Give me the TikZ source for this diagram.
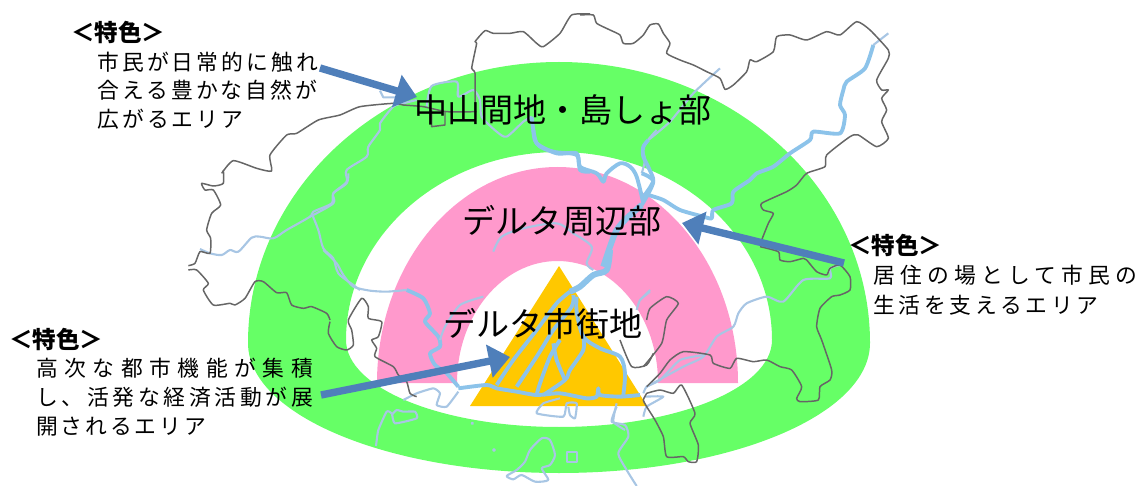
\documentclass[tikz,border=0pt]{standalone}
\usepackage{fontspec}
\setmainfont{Noto Sans CJK JP}
\usetikzlibrary{arrows.meta}
\definecolor{bandgreen}{HTML}{66FF66}
\definecolor{bandpink}{HTML}{FF99CC}
\definecolor{deltaorange}{HTML}{FFC800}
\definecolor{pointerblue}{HTML}{4F7FBA}
\definecolor{riverblue}{HTML}{8CC3EA}
\definecolor{brookblue}{HTML}{A8C6E4}
\definecolor{bordergray}{HTML}{666666}
\tikzset{
  crop/.style 2 args={shift={(#1,#2)},scale=.33333},
  border/.style={bordergray,line width=.85pt,line join=round},
  brook/.style={brookblue,line width=1.2pt,line join=round},
  river/.style={riverblue,line width=2.2pt,line join=round},
  trunk/.style={riverblue,line width=3.4pt,line join=round},
  pointer/.style={pointerblue,line width=4.2pt,-{Triangle[length=12pt,width=18.5pt]}},
  area/.style={inner sep=0pt,font=\fontsize{18.8}{22}\selectfont},
  head/.style={inner sep=0pt,anchor=west,font=\bfseries\fontsize{13.4}{16}\selectfont},
  body/.style={inner sep=0pt,anchor=west,font=\fontsize{12.4}{15}\selectfont\addfontfeature{LetterSpace=#1}}
}
\begin{document}
\begin{tikzpicture}[x=.02cm, y=-.02cm]
\useasboundingbox (0,0) rectangle (1139,486);
% bands
\fill[bandgreen,even odd rule]
 (248,343) arc[start angle=180,end angle=360,x radius=311,y radius=281]
 arc[start angle=0,end angle=180,x radius=311,y radius=130] -- cycle
 (346,340) arc[start angle=180,end angle=360,x radius=213,y radius=188]
 arc[start angle=0,end angle=180,x radius=213,y radius=87] -- cycle;
\fill[bandpink] (377,383) arc[start angle=180,end angle=360,x radius=180.5,y radius=216]
 -- (658,383) arc[start angle=360,end angle=180,x radius=100.5,y radius=122] -- cycle;
\fill[deltaorange] (559,266) -- (647,406) -- (470,406) -- cycle;
% rivers
\begin{scope}[crop={180}{170}]
\draw[brook] plot[smooth,tension=.5] coordinates {(60,237) (90,250) (125,255) (150,240) (175,245) (215,203) (240,200) (280,205) (320,180) (390,140) (400,125) (455,100) (460,70) (500,40) (505,10)};
\draw[brook] plot[smooth,tension=.5] coordinates {(395,130) (415,180) (430,235) (460,265) (475,310) (520,345) (540,360)};
\end{scope}
\begin{scope}[crop={190}{0}]
\draw[brook] plot[smooth,tension=.5] coordinates {(360,650) (430,610) (430,580) (470,545) (470,510) (530,470) (535,440) (570,390) (570,370) (610,320) (640,310) (680,300)};
\draw[brook] (570,272) -- (580,292) -- (620,292);
\draw[brook] plot[smooth,tension=.4] coordinates {(710,320) (725,258) (800,245) (805,290) (850,270) (870,300) (875,350) (920,395) (950,410) (1000,365) (1025,350)};
\draw[river] plot[smooth,tension=.5] coordinates {(1025,350) (1040,430) (1090,455) (1160,465) (1170,510) (1200,515)};
\end{scope}
\begin{scope}[crop={460}{130}]
\draw[river] plot[smooth,tension=.5] coordinates {(220,0) (230,40) (290,70) (350,70) (360,110) (410,130) (430,155) (440,130) (480,100) (510,110) (530,140) (550,220)};
\draw[brook] plot[smooth,tension=.5] coordinates {(590,0) (550,50) (555,90) (545,130)};
\draw[river] plot[smooth,tension=.5] coordinates {(545,130) (580,155) (545,225)};
\draw[trunk] plot[smooth,tension=.5] coordinates {(545,225) (500,265) (470,300) (450,350) (430,410)};
\draw[brook] plot[smooth,tension=.5] coordinates {(100,365) (125,320) (190,295) (290,280) (340,310) (395,350) (380,400) (400,420)};
\end{scope}
\begin{scope}[crop={580}{10}]
\draw[brook] plot[smooth,tension=.4] coordinates {(420,175) (340,250) (270,335) (205,390)};
\draw[river] plot[smooth,tension=.4] coordinates {(205,390) (190,410) (190,440) (220,510) (190,560)};
\draw[river] plot[smooth,tension=.4] coordinates {(880,105) (855,175) (800,215) (790,240) (780,285) (795,315) (780,370) (700,365) (690,390) (630,430) (580,470) (530,490) (510,510) (460,545) (455,580) (400,600) (395,625) (370,620) (300,600) (250,570) (205,555)};
\draw[brook] (925,70) -- (880,105);
\end{scope}
\begin{scope}[crop={230}{250}]
\draw[brook] plot[smooth,tension=.4] coordinates {(280,0) (320,40) (340,75) (370,110) (420,122) (470,125) (530,120)};
\draw[river] plot[smooth,tension=.4] coordinates {(530,120) (580,145) (600,190) (585,215) (625,260) (630,290) (600,310) (615,345) (650,370) (685,410)};
\draw[brook] plot[smooth,tension=.3] coordinates {(520,450) (560,430) (610,415) (630,430) (620,465) (650,470) (685,425)};
\end{scope}
\begin{scope}[crop={350}{390}]
\draw[brook] plot[smooth,tension=.3] coordinates {(78,168) (85,120) (110,65) (125,70) (135,100) (200,85) (195,65) (160,65) (140,60) (125,75)};
\draw[brook] plot[smooth cycle,tension=.4] coordinates {(470,258) (500,240) (525,215) (540,180) (575,145) (600,150) (615,195) (600,225) (575,235) (595,270) (555,275) (515,255) (490,268)};
\draw[brook] (650,185) rectangle (680,215);
\draw[brook] (367,100) circle[radius=2] (432,180) circle[radius=3];
\draw[brook] plot[smooth,tension=.4] coordinates {(800,50) (785,95) (825,105) (835,140) (805,190) (830,240) (860,288)};
\end{scope}
\begin{scope}[crop={380}{240}]
\draw[river] plot[smooth,tension=.4] coordinates {(235,445) (320,435) (350,445) (410,455) (470,465) (540,460) (620,475) (650,470) (655,445) (660,465) (720,470) (780,465)};
\draw[brook] plot[smooth,tension=.4] coordinates {(180,300) (195,260) (240,195) (310,170)};
\draw[trunk] plot[smooth,tension=.5] coordinates {(690,30) (680,90) (640,105) (600,140) (570,155)};
\draw[river] plot[smooth,tension=.5] coordinates {(570,155) (530,190) (470,270) (400,360) (350,435)};
\draw[river] plot[smooth,tension=.5] coordinates {(580,165) (575,200) (520,270) (470,350) (410,440)};
\draw[river] plot[smooth,tension=.5] coordinates {(540,300) (510,350) (480,430) (470,465)};
\draw[river] plot[smooth,tension=.5] coordinates {(520,310) (530,360) (555,420)};
\draw[river] plot[smooth,tension=.5] coordinates {(610,290) (610,330) (570,390) (555,420) (490,465)};
\draw[river] plot[smooth,tension=.5] coordinates {(590,170) (590,215) (610,290) (660,325) (720,350) (735,400) (730,465)};
\draw[brook] plot[smooth,tension=.3] coordinates {(540,475) (490,490) (470,520) (550,530) (560,490) (590,490) (585,535) (570,525) (565,500)};
\draw[brook] plot[smooth,tension=.3] coordinates {(790,460) (800,440) (840,420) (900,360) (970,345)};
\draw[brook] plot[smooth,tension=.3] coordinates {(770,210) (780,180) (810,155)};
\draw[brook] plot[smooth,tension=.3] coordinates {(795,470) (850,470) (800,500) (790,530)};
\draw[brook] plot[smooth,tension=.3] coordinates {(710,490) (700,545) (735,570)};
\end{scope}
\begin{scope}[crop={640}{180}]
\draw[brook] plot[smooth,tension=.4] coordinates {(20,620) (130,560) (190,530) (230,470) (280,440) (295,400) (320,370) (380,350) (430,365) (490,300) (570,295) (570,265) (600,255)};
\draw[brook] (0,360) -- (30,330);
\end{scope}
% borders
\begin{scope}[crop={190}{0}]
\draw[border] plot[smooth,tension=.35] coordinates {(95,520) (130,482) (200,505) (245,513) (240,465) (290,405) (320,400) (385,360) (450,345) (510,320) (610,310) (640,315) (700,320) (770,335) (860,335)};
\draw[border] (725,330) -- (725,380) -- (765,375) -- (765,335);
\draw[border] plot[smooth,tension=.35] coordinates {(855,335) (855,220) (845,205) (860,130) (855,125) (885,92) (910,100) (960,100) (1000,95) (1040,130) (1060,140) (1110,100) (1145,45) (1200,42)};
\end{scope}
\begin{scope}[crop={180}{170}]
\draw[border] plot[smooth,tension=.35] coordinates {(130,0) (130,40) (100,48) (65,40) (75,60) (100,60) (122,105) (95,130) (80,180) (92,205) (90,250) (60,245) (45,280) (25,287)};
\draw[border] plot[smooth,tension=.35] coordinates {(25,300) (50,300) (85,340) (70,360) (100,405) (150,400) (165,405) (195,385) (225,335) (250,335) (290,368) (320,368) (335,405) (370,415) (395,410) (440,430) (450,450)};
\end{scope}
\begin{scope}[crop={230}{250}]
\draw[border] plot[smooth,tension=.35] coordinates {(300,215) (295,250) (320,290) (350,300) (370,285) (365,240) (355,210) (395,145) (415,170) (415,205) (455,215) (445,260) (425,270) (440,295) (435,320) (490,350) (505,375) (530,395) (540,430) (560,440)};
\end{scope}
\begin{scope}[crop={580}{10}]
\draw[border] plot[smooth,tension=.35] coordinates {(0,15) (40,15) (50,40) (90,60) (120,75) (130,100) (160,100) (190,75) (210,45) (235,42) (250,70) (270,100) (260,130) (300,150) (340,165) (380,185) (420,205) (435,238) (460,225) (500,185) (510,150) (530,155) (580,125) (590,80) (630,75) (680,90) (740,65) (780,75) (830,35) (870,60) (925,120) (925,145) (890,210) (905,240) (925,240) (905,265) (920,300) (905,335) (925,385) (890,410) (835,375) (810,380) (740,435) (735,470) (680,490) (650,525) (620,545) (545,580) (550,600) (580,610) (565,640) (545,690)};
\end{scope}
\begin{scope}[crop={640}{180}]
\draw[border] plot[smooth,tension=.35] coordinates {(360,200) (415,215) (420,240) (450,245) (490,235) (500,240) (530,275) (560,285) (570,265) (600,255) (630,290) (630,330) (600,345) (575,350) (540,385) (530,440) (545,480) (575,570) (570,600) (540,620) (535,660) (480,665) (470,655) (485,620) (455,570) (420,560) (380,540) (340,545) (290,535) (270,565) (220,550) (210,525) (130,515) (90,540) (60,580) (20,620)};
\draw[border] plot[smooth,tension=.35] coordinates {(20,640) (60,630) (100,640) (125,615) (165,700) (150,730) (175,795) (170,845) (145,845) (130,830) (80,830) (70,770) (45,720) (20,680) (10,660) (20,640)};
\draw[border] plot[smooth,tension=.35] coordinates {(10,560) (65,490) (80,420) (115,370) (80,350) (30,385) (20,420)};
\end{scope}
\begin{scope}[crop={380}{240}]
\draw[border] plot[smooth,tension=.35] coordinates {(720,300) (755,380) (800,375) (820,340)};
\end{scope}
% pointers
\coordinate (mountainfrom) at (320,68);
\coordinate (mountainto) at (417,97);
\coordinate (edgefrom) at (844,263);
\coordinate (edgeto) at (682,223);
\coordinate (deltafrom) at (321,395);
\coordinate (deltato) at (510,357);
\draw[pointer] (mountainfrom) -- (mountainto);
\draw[pointer] (edgefrom) -- (edgeto);
\draw[pointer] (deltafrom) -- (deltato);
% labels
\node[area] (mountain) at (563,110) {中山間地・島しょ部};
\node[area] (edge) at (562,221) {デルタ周辺部};
\node[area] (delta) at (543,324) {デルタ市街地};
\node[head] (headtop) at (71,32) {＜特色＞};
\node[body=14] (topa) at (97,62) {市民が日常的に触れ};
\node[body=14] (topb) at (97,90) {合える豊かな自然が};
\node[body=14] (topc) at (97,119) {広がるエリア};
\node[head] (headright) at (848,245) {＜特色＞};
\node[body=24] (righta) at (873,275) {居住の場として市民の};
\node[body=17] (rightb) at (873,305) {生活を支えるエリア};
\node[head] (headleft) at (9,339) {＜特色＞};
\node[body=30] (lefta) at (36,368) {高次な都市機能が集積};
\node[body=17] (leftb) at (36,397) {し、活発な経済活動が展};
\node[body=13] (leftc) at (36,427) {開されるエリア};
\end{tikzpicture}
\end{document}
